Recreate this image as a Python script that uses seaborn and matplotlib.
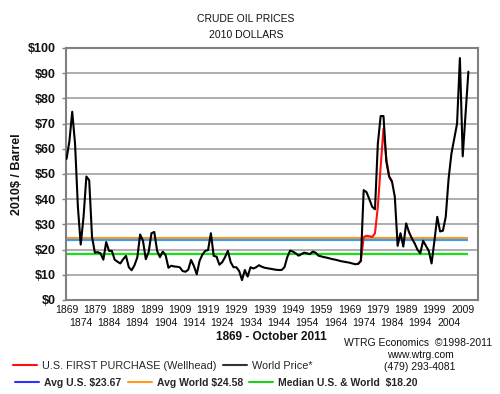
import matplotlib
matplotlib.use("Agg")
import matplotlib.pyplot as plt
import seaborn as sns
import pandas as pd
from matplotlib.lines import Line2D

# ---------------- data ----------------
years = list(range(1869, 2012))
world_price = [
    56, 63, 74.7, 62, 37, 22, 33, 49, 47.5, 25,            # 1869-1878
    18.8, 19, 18.5, 16, 23, 19.5, 19.5, 16, 15.2, 14.5,    # 1879-1888
    16.2, 17.5, 13, 11.8, 13.8, 16.9, 26, 23.5, 16.2, 19,  # 1889-1898
    26.5, 27, 19.5, 17, 19.2, 17.8, 12.8, 13.6, 13.3, 13.2,  # 1899-1908
    13, 11.5, 11.2, 12, 15.9, 13.5, 10.2, 15.5, 18, 19.5,  # 1909-1918
    19.8, 26.5, 17.5, 17.2, 14, 15, 17, 19.5, 15, 13,      # 1919-1928
    13, 11.5, 7.9, 11.9, 9.3, 13, 12.5, 13, 13.8, 13.2,    # 1929-1938
    12.8, 12.6, 12.4, 12.2, 12, 11.9, 11.9, 13, 17, 19.6,  # 1939-1948
    19.2, 18.5, 17.6, 18.2, 18.8, 18.5, 18.2, 19.2, 18.8, 17.6,  # 1949-1958
    17.3, 17, 16.8, 16.5, 16.2, 16, 15.7, 15.4, 15.2, 15,  # 1959-1968
    14.8, 14.5, 14.2, 14.3, 15.5, 43.6, 42.8, 40, 37, 36,  # 1969-1978
    62, 73, 73, 55, 49, 47, 41, 21.5, 26.5, 21.2,          # 1979-1988
    30.4, 27, 24.5, 22.5, 20, 18.5, 23.5, 21.5, 19.5, 14.5,  # 1989-1998
    23.5, 33, 27.2, 27.5, 33, 48, 58, 64, 70, 96,          # 1999-2008
    57, 74, 90.6,                                          # 2009-2011
]
us_years = list(range(1972, 1985))
us_price = [14.3, 15.5, 25, 25.5, 25.3, 25, 26.5, 37, 53, 68, 56, 49, 47]

avg_us = 23.67
avg_world = 24.58
median_all = 18.20

y_ticks = [0, 10, 20, 30, 40, 50, 60, 70, 80, 90, 100]
y_tick_labels = ["$" + str(v) for v in y_ticks]
x_ticks_top = list(range(1869, 2010, 10))
x_ticks_bottom = list(range(1874, 2005, 10))

# ---------------- style ----------------
sns.set_theme(style="white")
plt.rcParams['font.family'] = ['Liberation Sans', 'DejaVu Sans']

W, H = 500, 394
fig = plt.figure(figsize=(W / 100, H / 100), dpi=100)
fig.patch.set_facecolor("white")
ax = fig.add_axes([66 / W, 1 - 300 / H, (478 - 66) / W, (300 - 48) / H])
ax.set_facecolor("white")

df_world = pd.DataFrame({"Year": years, "Price": world_price})
df_us = pd.DataFrame({"Year": us_years, "Price": us_price})

# reference lines
blue_c = "#3a9df2"
orange_c = "#ff9a1a"
green_c = "#19e019"
ax.hlines(avg_world, years[0], years[-1], color=orange_c, lw=1.6, zorder=2)
ax.hlines(avg_us, years[0], years[-1], color=blue_c, lw=1.6, zorder=2)
ax.hlines(median_all, years[0], years[-1], color=green_c, lw=1.6, zorder=2)

sns.lineplot(data=df_us, x="Year", y="Price", color="#ff1010", lw=1.5,
             ax=ax, zorder=3, legend=False)
sns.lineplot(data=df_world, x="Year", y="Price", color="black", lw=1.5,
             ax=ax, zorder=4, legend=False)

ax.set_xlim(1868.8, 2014.4)
ax.set_ylim(0, 100)
ax.set_xlabel("")
ax.set_ylabel("")

ax.set_yticks(y_ticks)
ax.set_yticklabels(y_tick_labels, fontsize=9, fontweight="bold", color="#111111")
ax.tick_params(axis="y", length=3, width=1, color="#808080", pad=4.5, left=True)
ax.yaxis.grid(True, color="#a0a0a0", lw=1.2)
ax.set_axisbelow(True)

ax.set_xticks(x_ticks_top)
ax.set_xticklabels([str(y) for y in x_ticks_top], fontsize=7.5, color="#111111")
ax.set_xticks(x_ticks_bottom, minor=True)
ax.set_xticklabels([str(y) for y in x_ticks_bottom], minor=True, fontsize=7.5,
                   color="#111111")
ax.tick_params(axis="x", which="major", length=0, pad=3.5)
ax.tick_params(axis="x", which="minor", length=0, pad=12.8)

for s in ax.spines.values():
    s.set_color("#808080")
    s.set_linewidth(1.5)
    s.set_visible(True)

# ---------------- texts ----------------
fig.text(246 / W, 1 - 19 / H, "CRUDE OIL PRICES", ha="center", va="center",
         fontsize=7.5, color="#111111")
fig.text(246 / W, 1 - 35 / H, "2010 DOLLARS", ha="center", va="center",
         fontsize=7.5, color="#111111")
fig.text(17 / W, 1 - 174 / H, "2010$ / Barrel", rotation=90, ha="center",
         va="center", fontsize=9, fontweight="bold", color="#111111")
fig.text(271 / W, 1 - 337 / H, "1869 - October 2011", ha="center", va="center",
         fontsize=8.5, fontweight="bold", color="#111111")
fig.text(418 / W, 1 - 343 / H, "WTRG Economics  \u00a91998-2011", ha="center",
         va="center", fontsize=7.5, color="#111111")
fig.text(420 / W, 1 - 355 / H, "www.wtrg.com", ha="center", va="center",
         fontsize=7.5, color="#111111")
fig.text(420 / W, 1 - 367 / H, "(479) 293-4081", ha="center", va="center",
         fontsize=7.5, color="#111111")

# ---------------- legends ----------------
h1 = [Line2D([], [], color="#ff1010", lw=1.5), Line2D([], [], color="#333333", lw=1.5)]
l1 = ["U.S. FIRST PURCHASE (Wellhead)", "World Price*"]
leg1 = fig.legend(h1, l1, loc="center left", bbox_to_anchor=(13 / W, 1 - 366 / H),
                  ncol=2, frameon=False, handlelength=2.2,
                  handletextpad=0.5, columnspacing=0.6, borderpad=0,
                  borderaxespad=0, prop={"size": 7.8})
h2 = [Line2D([], [], color="#3030ff", lw=1.5), Line2D([], [], color="#ff9a1a", lw=1.5),
      Line2D([], [], color="#19d019", lw=1.5)]
l2 = ["Avg U.S. $23.67", "Avg World $24.58", "Median U.S. & World  $18.20"]
leg2 = fig.legend(h2, l2, loc="center left", bbox_to_anchor=(15 / W, 1 - 383 / H),
                  ncol=3, frameon=False, handlelength=2.3,
                  handletextpad=0.5, columnspacing=0.6, borderpad=0,
                  borderaxespad=0, prop={"weight": "bold", "size": 7.5})

fig.savefig("out.png", dpi=100, facecolor="white")
